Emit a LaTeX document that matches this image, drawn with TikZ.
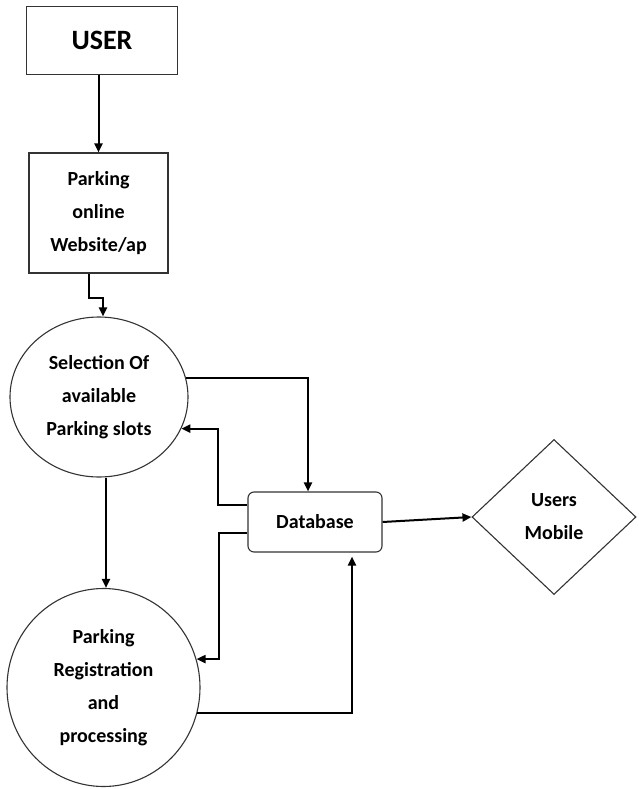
\documentclass[tikz,border=0pt]{standalone}
\usepackage{fontspec}
\setmainfont{Carlito}
\usepackage{tikz}
\usetikzlibrary{shapes.geometric,arrows.meta}

\begin{document}
\begin{tikzpicture}[x=1pt,y=-1pt,
	box/.style={draw=black!80,line width=1.1pt,inner sep=0pt,align=center,
		font=\fontsize{20}{33}\selectfont\bfseries},
	flow/.style={-{Triangle[length=9pt,width=8pt]},line width=2pt}]
	
	\useasboundingbox (0,0) rectangle (638,789);
	
	\node[box,shape=rectangle,line width=1.5pt,minimum width=151pt,minimum height=68pt,
		font=\fontsize{28}{28}\selectfont\bfseries] (user) at (102, 40.5) {USER};
	
	\node[box,shape=rectangle,minimum width=139pt,minimum height=120pt] (site) at (98.5, 213)
		{Parking\\online\\Website/ap};
	\node[box,shape=ellipse,minimum width=178pt,minimum height=160pt] (sel) at (99, 397)
		{Selection Of\\available\\Parking slots};
	\node[box,shape=ellipse,minimum width=193pt,minimum height=198pt] (reg) at (103.5, 687.5)
		{Parking\\Registration\\and\\processing};
	
	\node[box,shape=rectangle,rounded corners=6pt,minimum width=134pt,minimum height=60pt] (db) at (315, 522)
		{Database};
	\node[box,shape=diamond,minimum width=164pt,minimum height=155pt] (mob) at (554, 517)
		{Users\\Mobile};
	
	\draw[flow] (user.south -| site.north) -- (site.north);
	\draw[flow] ([xshift=-9.5pt]site.south) -- ++(0,24) -| ([xshift=4pt]sel.north);
	
	\draw[flow] (sel.12) -| ([xshift=-7pt]db.north);
	\draw[flow] ([yshift=17pt]db.west) -- ++(-29,0) |- (sel.-21);
	\draw[flow] ([yshift=-11pt]db.west) -- ++(-28,0) |- (reg.17);
	
	\draw[flow] ([xshift=7pt]sel.south) -- ([xshift=7pt]sel.south |- reg.north);
	\draw[flow,shorten >=4pt] (reg.-15) -| ([xshift=37pt]db.south);
	
	\draw[flow] (db.east) -- (mob.west);
	
\end{tikzpicture}
\end{document}
